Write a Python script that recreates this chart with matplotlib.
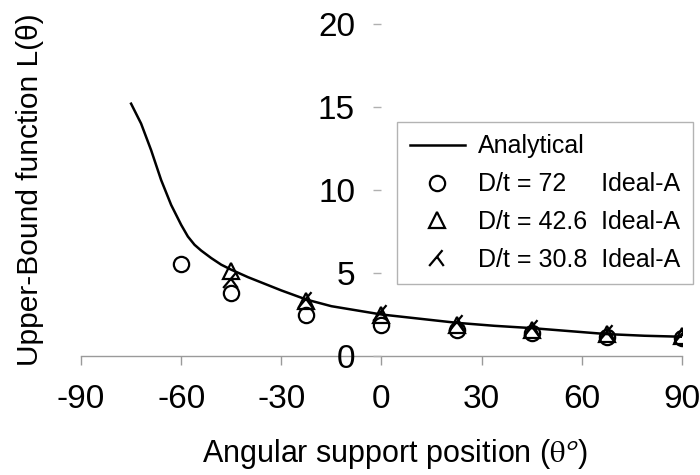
import matplotlib
matplotlib.use("Agg")
import matplotlib.pyplot as plt
from matplotlib.path import Path

plt.rcParams['font.family'] = ['Liberation Sans', 'DejaVu Sans']
plt.rcParams['mathtext.fontset'] = 'stix'

# Analytical curve
curve_x = [-75, -72, -69, -66, -63, -60, -58, -56, -54, -51, -48, -45, -40, -35, -30,
           -22.5, -15, -7.5, 0, 11.25, 22.5, 33.75, 45, 56.25, 67.5, 78.75, 90]
curve_y = [15.2, 14.0, 12.4, 10.6, 9.1, 7.9, 7.2, 6.7, 6.35, 5.9, 5.5, 5.2, 4.75, 4.35, 3.95,
           3.4, 3.0, 2.75, 2.5, 2.25, 2.0, 1.82, 1.68, 1.5, 1.32, 1.22, 1.16]

# Experimental points
x_72 = [-60, -45, -22.5, 0, 22.5, 45, 67.5, 90]
y_72 = [5.55, 3.8, 2.5, 1.85, 1.57, 1.37, 1.13, 1.07]

x_426 = [-45, -22.5, 0, 22.5, 45, 67.5, 90]
y_426 = [5.1, 3.3, 2.45, 1.87, 1.57, 1.33, 1.2]

x_308 = [-45, -22.5, 0, 22.5, 45, 67.5, 90]
y_308 = [4.6, 3.35, 2.6, 2.0, 1.7, 1.38, 1.28]

labels = ["Analytical", "D/t = 72     Ideal-A", "D/t = 42.6  Ideal-A", "D/t = 30.8  Ideal-A"]
xticks = [-90, -60, -30, 0, 30, 60, 90]
yticks = [0, 5, 10, 15, 20]

# custom "lambda" marker
lam = Path([(-1.0, -0.9), (0.6, 1.0), (-0.05, 0.2), (0.75, -0.9)],
           [Path.MOVETO, Path.LINETO, Path.MOVETO, Path.LINETO])

fig = plt.figure(figsize=(7, 4.75), dpi=100)
ax = fig.add_axes([81/700, 1-356/475, (682-81)/700, (356-24)/475])

ln, = ax.plot(curve_x, curve_y, color='black', lw=1.8, zorder=3)
c, = ax.plot(x_72, y_72, 'o', ms=11, mfc='none', mec='black', mew=1.6, zorder=4)
t, = ax.plot(x_426, y_426, '^', ms=12, mfc='none', mec='black', mew=1.6, zorder=4)
l, = ax.plot(x_308, y_308, marker=lam, ls='none', ms=12, mfc='none', mec='black', mew=1.6, zorder=4)

ax.set_xlim(-90, 90)
ax.set_ylim(0, 20)
ax.set_xticks(xticks)
ax.set_yticks(yticks)
ax.set_xticklabels([str(v) for v in xticks])
ax.set_yticklabels([str(v) for v in yticks])

for s in ['top', 'right']:
    ax.spines[s].set_visible(False)
ax.spines['left'].set_position(('data', 0))
ax.spines['left'].set_visible(False)
ax.spines['bottom'].set_color('#9a9a9a')
ax.spines['bottom'].set_linewidth(1.0)
ax.spines['bottom'].set_zorder(1)

ax.tick_params(axis='x', direction='out', length=6.5, width=1.0, color='#9a9a9a',
               labelsize=24, pad=14)
ax.tick_params(axis='y', direction='out', length=6, width=1.0, color='#b0b0b0',
               labelsize=24, pad=13)
ax.patch.set_alpha(0)

ax.set_xlabel(r"Angular support position ($\mathrm{\theta}^{\mathsf{o}}$)", fontsize=22)
ax.xaxis.set_label_coords(0.522, -0.245)
ax.set_ylabel("Upper-Bound function L(θ)", fontsize=21.5)
ax.yaxis.set_label_coords(-0.062, 0.5)

fig.legend([ln, c, t, l], labels, loc='upper left', bbox_to_anchor=(397/700, 1-122/475),
           borderaxespad=0, fontsize=18, frameon=True, fancybox=False,
           edgecolor='#a0a0a0', handlelength=2.2, handletextpad=0.55,
           labelspacing=0.55, borderpad=0.5)

fig.savefig("out.png", dpi=100)
